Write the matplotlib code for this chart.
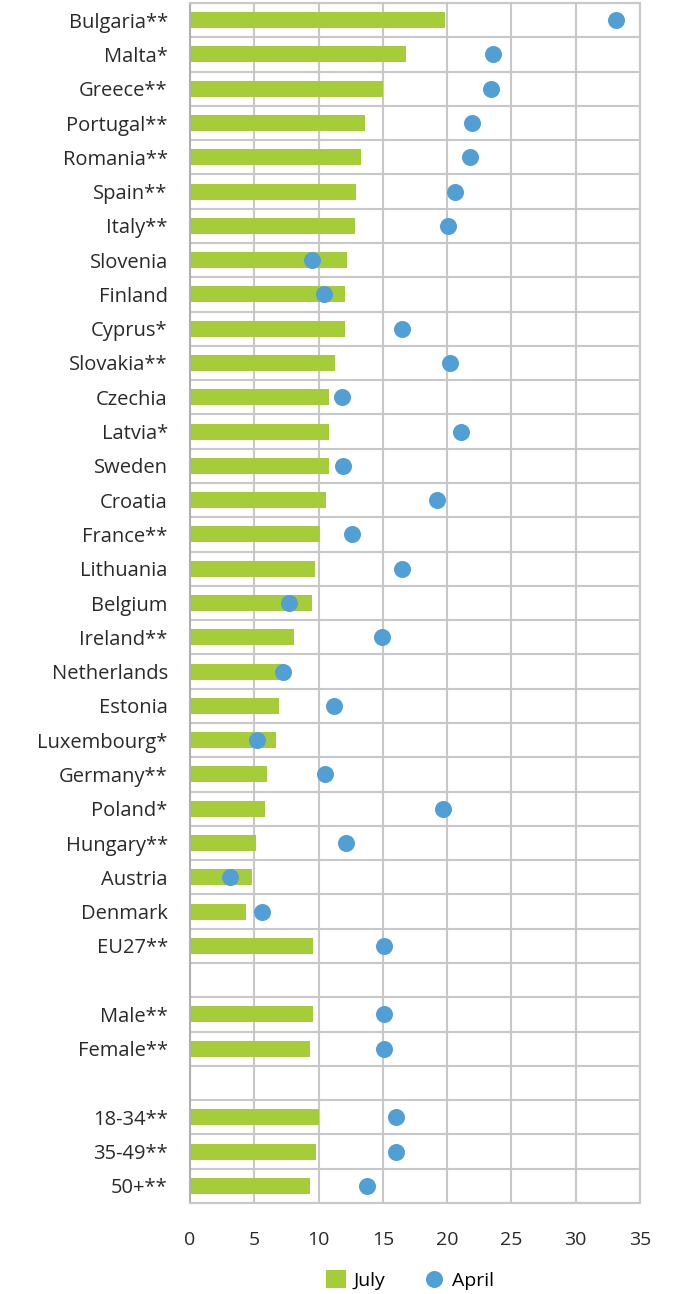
import matplotlib
matplotlib.use('Agg')
import matplotlib.pyplot as plt
import numpy as np

plt.rcParams['font.family'] = ['Open Sans', 'DejaVu Sans']

labels = ['Bulgaria**', 'Malta*', 'Greece**', 'Portugal**', 'Romania**', 'Spain**',
          'Italy**', 'Slovenia', 'Finland', 'Cyprus*', 'Slovakia**', 'Czechia',
          'Latvia*', 'Sweden', 'Croatia', 'France**', 'Lithuania', 'Belgium',
          'Ireland**', 'Netherlands', 'Estonia', 'Luxembourg*', 'Germany**',
          'Poland*', 'Hungary**', 'Austria', 'Denmark', 'EU27**', '',
          'Male**', 'Female**', '', '18-34**', '35-49**', '50+**']
july = [19.8, 16.8, 15.0, 13.6, 13.3, 12.95, 12.8, 12.2, 12.05, 12.05, 11.3, 10.8,
        10.8, 10.8, 10.6, 10.1, 9.75, 9.5, 8.1, 7.2, 6.9, 6.7, 6.0, 5.8, 5.1, 4.8,
        4.35, 9.6, None, 9.6, 9.3, None, 10.0, 9.8, 9.3]
april = [33.1, 23.6, 23.4, 21.9, 21.8, 20.6, 20.1, 9.5, 10.4, 16.5, 20.2, 11.8,
         21.1, 11.9, 19.2, 12.6, 16.5, 7.7, 14.9, 7.2, 11.2, 5.2, 10.5, 19.7, 12.1,
         3.1, 5.6, 15.1, None, 15.1, 15.1, None, 16.0, 16.0, 13.75]

green = '#a5cd39'
blue = '#529fd6'
grid = '#c8c8c8'

n = len(labels)
y = np.arange(n)
jv = np.array([np.nan if v is None else v for v in july])
av = np.array([np.nan if v is None else v for v in april])

fig = plt.figure(figsize=(6.82, 12.94), dpi=100)
ax = fig.add_axes([190 / 682, 1 - 1203 / 1294, 450 / 682, 1200 / 1294])

bars = ax.barh(y, jv, height=0.47, color=green, label='July', zorder=2)
dots = ax.scatter(av, y, s=150, color=blue, label='April', zorder=3, linewidths=0)

ax.set_ylim(n - 0.5, -0.5)
ax.set_xlim(0, 35)
ax.set_xticks(range(0, 36, 5))
ax.set_yticks(y)
ax.set_yticklabels(labels)
ax.set_yticks(np.arange(-0.5, n, 1), minor=True)

ax.grid(axis='x', color=grid, lw=1.5, zorder=0)
ax.grid(axis='y', which='minor', color=grid, lw=1.5, zorder=0)
ax.tick_params(axis='y', which='major', length=0, pad=16, labelsize=14.5, labelcolor='#2a2a2a')
ax.tick_params(axis='y', which='minor', length=0)
ax.tick_params(axis='x', length=0, pad=20, labelsize=14, labelcolor='#2a2a2a')
for s in ax.spines.values():
    s.set_color(grid)
    s.set_linewidth(1.5)
ax.spines['left'].set_color('#b0b0b0')

ax.legend([bars, dots], ['July', 'April'], loc='center',
          bbox_to_anchor=(410 / 682, 1 - 1280 / 1294),
          bbox_transform=fig.transFigure, ncol=2, frameon=False, fontsize=14,
          handlelength=1.0, handleheight=1.0, columnspacing=2.0, handletextpad=0.4)

fig.savefig('out.png', dpi=100)
